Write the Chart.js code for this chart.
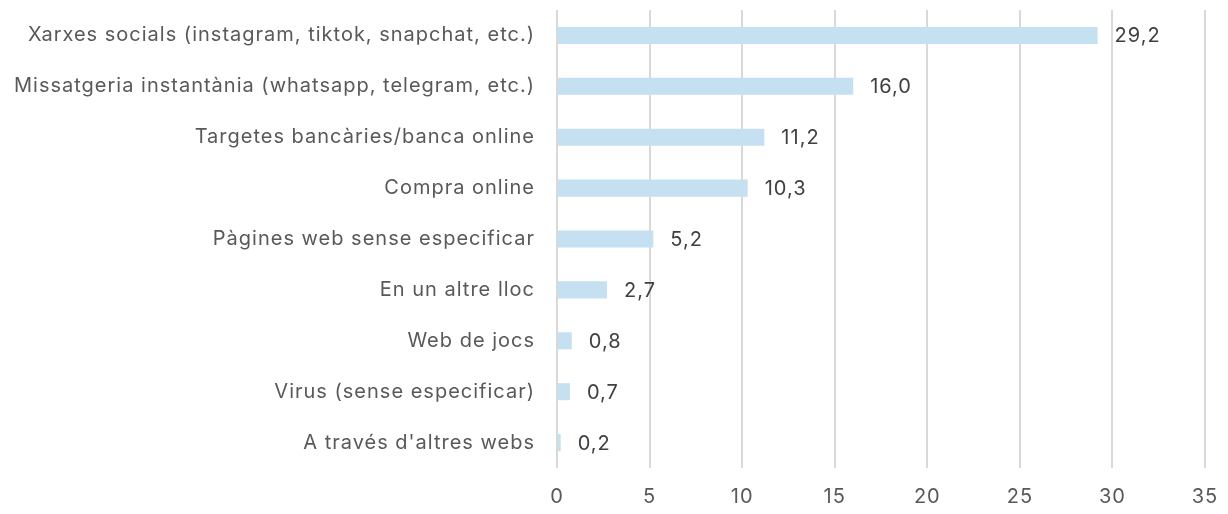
<!DOCTYPE html>
<html><head><meta charset="utf-8">
<script src="https://cdn.jsdelivr.net/npm/chart.js@4/dist/chart.umd.min.js"></script>
<style>html,body{margin:0;padding:0;background:#fff}#wrap{width:1228px;height:514px}</style>
</head><body><div id="wrap"><canvas id="c" width="1228" height="514"></canvas></div>
<script>
const categories = [
  "Xarxes socials (instagram, tiktok, snapchat, etc.)",
  "Missatgeria instantània (whatsapp, telegram, etc.)",
  "Targetes bancàries/banca online",
  "Compra online",
  "Pàgines web sense especificar",
  "En un altre lloc",
  "Web de jocs",
  "Virus (sense especificar)",
  "A través d'altres webs"
];
const values = [29.2, 16.0, 11.2, 10.3, 5.2, 2.7, 0.8, 0.7, 0.2];
const xTicks = [0, 5, 10, 15, 20, 25, 30, 35];

const FONT = "Inter";
const FSIZE = 20;
const SPACING = '1px';

const spacingPlugin = {
  id: 'spacing',
  beforeLayout(chart) { chart.ctx.letterSpacing = SPACING; },
  beforeDraw(chart) { chart.ctx.letterSpacing = SPACING; }
};

const valueLabels = {
  id: 'valueLabels',
  afterDatasetsDraw(chart) {
    const ctx = chart.ctx;
    const meta = chart.getDatasetMeta(0);
    ctx.save();
    ctx.letterSpacing = SPACING;
    ctx.font = FSIZE + "px " + FONT;
    ctx.fillStyle = "#404040";
    ctx.textAlign = "left";
    ctx.textBaseline = "middle";
    meta.data.forEach((bar, i) => {
      const txt = values[i].toFixed(1).replace('.', ',');
      ctx.fillText(txt, bar.x + 17, bar.y + 1);
    });
    ctx.restore();
  }
};

new Chart(document.getElementById('c'), {
  type: 'bar',
  data: {
    labels: categories,
    datasets: [{
      data: values,
      backgroundColor: '#c5e0f1',
      borderWidth: 0,
      barPercentage: 0.67,
      categoryPercentage: 0.5
    }]
  },
  options: {
    indexAxis: 'y',
    responsive: false,
    animation: false,
    layout: { padding: { left: 0, right: 23, top: 10, bottom: 0 } },
    plugins: { legend: { display: false }, tooltip: { enabled: false } },
    scales: {
      x: {
        min: 0, max: 35,
        afterBuildTicks(axis) { axis.ticks = xTicks.map(v => ({ value: v })); },
        afterFit(axis) { axis.height = 46; axis.paddingLeft = 0; axis.paddingRight = 0; },
        grid: { color: '#d9d9d9', lineWidth: 2, drawTicks: false },
        border: { display: false },
        ticks: { color: '#595959', font: { family: FONT, size: FSIZE }, padding: 17 }
      },
      y: {
        afterFit(axis) { axis.width = 557; axis.paddingTop = 0; axis.paddingBottom = 0; },
        grid: { display: false, drawTicks: false },
        border: { display: false },
        ticks: { color: '#595959', font: { family: FONT, size: FSIZE }, padding: 22, autoSkip: false }
      }
    }
  },
  plugins: [spacingPlugin, valueLabels]
});
</script>
</body></html>
